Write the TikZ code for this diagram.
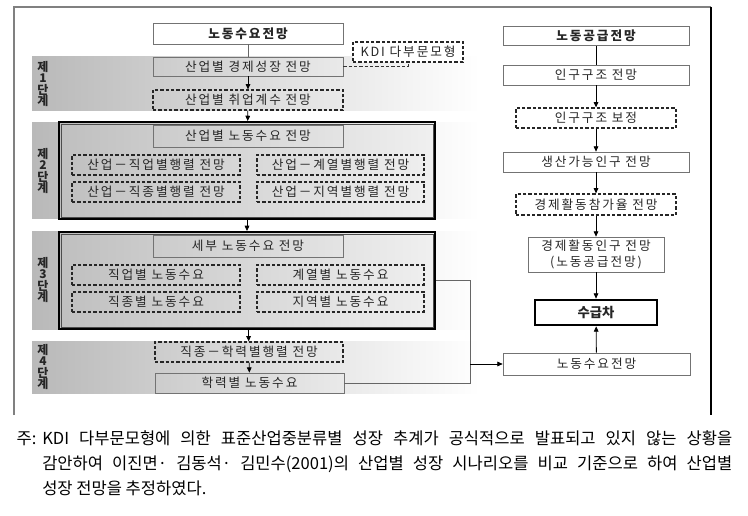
\documentclass[tikz,border=0pt]{standalone}
\usepackage{fontspec}
\setmainfont{Noto Sans CJK KR}
\newfontfamily\boxfont[LetterSpace=15]{Noto Sans CJK KR}
\usetikzlibrary{arrows.meta}

\tikzset{
  sz/.style 2 args={minimum width=#1*0.75pt, minimum height=#2*0.75pt},
  box/.style={draw=black!55, line width=0.5pt, inner sep=0pt, text=black!85, font=\boxfont\fontsize{9.5}{12}\selectfont},
  dbox/.style={box, draw=black!85, line width=0.9pt, dash pattern=on 2.5pt off 1.5pt},
  band/.style={left color=gray!55, right color=white},
  stagebox/.style={draw=black, line width=1.4pt, inner sep=0pt, left color=gray!50, right color=gray!12},
  stagelbl/.style={font=\fontsize{9}{8.5}\selectfont\bfseries, align=center, text=black!85},
  link/.style={draw=black!60, line width=0.6pt},
  arr/.style={draw=black, line width=0.6pt, -{Triangle[length=4pt,width=3.5pt]}}
}

\begin{document}
\begin{tikzpicture}[x=0.75pt,y=-0.75pt]
\useasboundingbox (0,0) rectangle (748,516);

\draw[gray, line width=1.5pt] (14,415) -- (14,7) -- (711,7);
\draw[black, line width=1.5pt] (711,7) -- (711,415);

\fill[band] (32,57) rectangle (480,111);
\fill[band] (32,123) rectangle (480,219);
\fill[band] (32,232) rectangle (480,329);
\fill[band] (32,341) rectangle (480,393);

\node[stagelbl] (lbl1) at (43,84) {제\\1\\단\\계};
\node[stagelbl] (lbl2) at (43,171) {제\\2\\단\\계};
\node[stagelbl] (lbl3) at (43,280) {제\\3\\단\\계};
\node[stagelbl] (lbl4) at (43,367) {제\\4\\단\\계};

% stage 1
\node[box, fill=white, sz={190}{21}, font=\boxfont\fontsize{9.5}{12}\selectfont\bfseries] (dem) at (248,33.5) {노동수요전망};
\node[box, sz={190}{19}] (growth) at (248,66.5) {산업별 경제성장 전망};
\node[dbox, fill=white, sz={110}{20}] (kdi) at (408,52) {KDI 다부문모형};
\node[dbox, sz={190}{20}] (coef) at (248,100) {산업별 취업계수 전망};

% stage 2
\node[stagebox, sz={376}{97}] (s2) at (247,170.5) {};
\draw[black!70, line width=0.6pt] ([shift={(3,3)}]s2.north west) rectangle ([shift={(-3,-3)}]s2.south east);
\node[box, sz={190}{22}] (ind) at (248,136) {산업별 노동수요 전망};
\node[dbox, sz={168}{20}] (ja) at (156,165) {산업－직업별행렬 전망};
\node[dbox, sz={167}{20}] (ga) at (340.5,165) {산업－계열별행렬 전망};
\node[dbox, sz={168}{20}] (jj) at (156,192) {산업－직종별행렬 전망};
\node[dbox, sz={167}{20}] (ji) at (340.5,192) {산업－지역별행렬 전망};

% stage 3
\node[stagebox, sz={376}{97}] (s3) at (247,280.5) {};
\draw[black!70, line width=0.6pt] ([shift={(3,3)}]s3.north west) rectangle ([shift={(-3,-3)}]s3.south east);
\node[box, sz={190}{22}] (detail) at (248,246) {세부 노동수요 전망};
\node[dbox, sz={168}{20}] (jad) at (156,275) {직업별 노동수요};
\node[dbox, sz={167}{20}] (gad) at (340.5,275) {계열별 노동수요};
\node[dbox, sz={168}{20}] (jjd) at (156,302) {직종별 노동수요};
\node[dbox, sz={167}{20}] (jid) at (340.5,302) {지역별 노동수요};

% stage 4
\node[dbox, sz={188}{20}] (matrix) at (249,352) {직종－학력별행렬 전망};
\node[box, sz={189}{20}] (edu) at (249.5,383) {학력별 노동수요};

% supply side
\node[box, sz={186}{19}, font=\boxfont\fontsize{9.5}{12}\selectfont\bfseries] (sup) at (596,36) {노동공급전망};
\node[box, sz={186}{20}] (pop) at (596,75) {인구구조 전망};
\node[dbox, sz={160}{20}] (popadj) at (596,118) {인구구조 보정};
\node[box, sz={186}{20}] (work) at (596,162) {생산가능인구 전망};
\node[dbox, sz={160}{21}] (part) at (596,204.5) {경제활동참가율 전망};
\node[box, sz={136}{35}, align=center] (active) at (596,254.5) {경제활동인구 전망\\(노동공급전망)};
\node[box, draw=black, line width=2pt, sz={122}{25}, font=\fontsize{10}{12}\selectfont\bfseries] (gap) at (596,312.5) {수급차};
\node[box, sz={187}{22}] (dem2) at (596.5,364) {노동수요전망};

\coordinate (junc) at (470,383);

\draw[link] (dem) -- (growth);
\draw[link, draw=black!80, dash pattern=on 2.5pt off 1.5pt] (growth.east) -| (kdi.south);
\draw[arr] (growth) -- (coef);
\draw[arr] (coef) -- (s2);
\draw[arr] (s2) -- (s3);
\draw[arr] (s3) -- (matrix);
\draw[arr] (matrix) -- (edu);
\draw[link] (s3.east) -| (junc) -- (edu.east);
\draw[arr] (junc |- dem2.west) -- (dem2.west);

\draw[link, draw=black] (sup) -- (pop);
\draw[arr] (pop) -- (popadj);
\draw[arr] (popadj) -- (work);
\draw[arr] (work) -- (part);
\draw[arr] (part) -- (active);
\draw[arr] (active) -- (gap);
\draw[arr] (dem2) -- (gap);

\node[anchor=north west, inner sep=0pt, text width=517.5pt, align=justify, font=\fontsize{12.4}{19}\selectfont] (note) at (42,430)
  {KDI 다부문모형에 의한 표준산업중분류별 성장 추계가 공식적으로 발표되고 있지 않는 상황을\linebreak
   감안하여 이진면· 김동석· 김민수(2001)의 산업별 성장 시나리오를 비교 기준으로 하여 산업별\linebreak
   성장 전망을 추정하였다.};
\node[anchor=base east, inner sep=0pt, font=\fontsize{12.4}{19}\selectfont] (notelbl) at ([xshift=-4pt]note.base west) {주:};

\end{tikzpicture}
\end{document}
